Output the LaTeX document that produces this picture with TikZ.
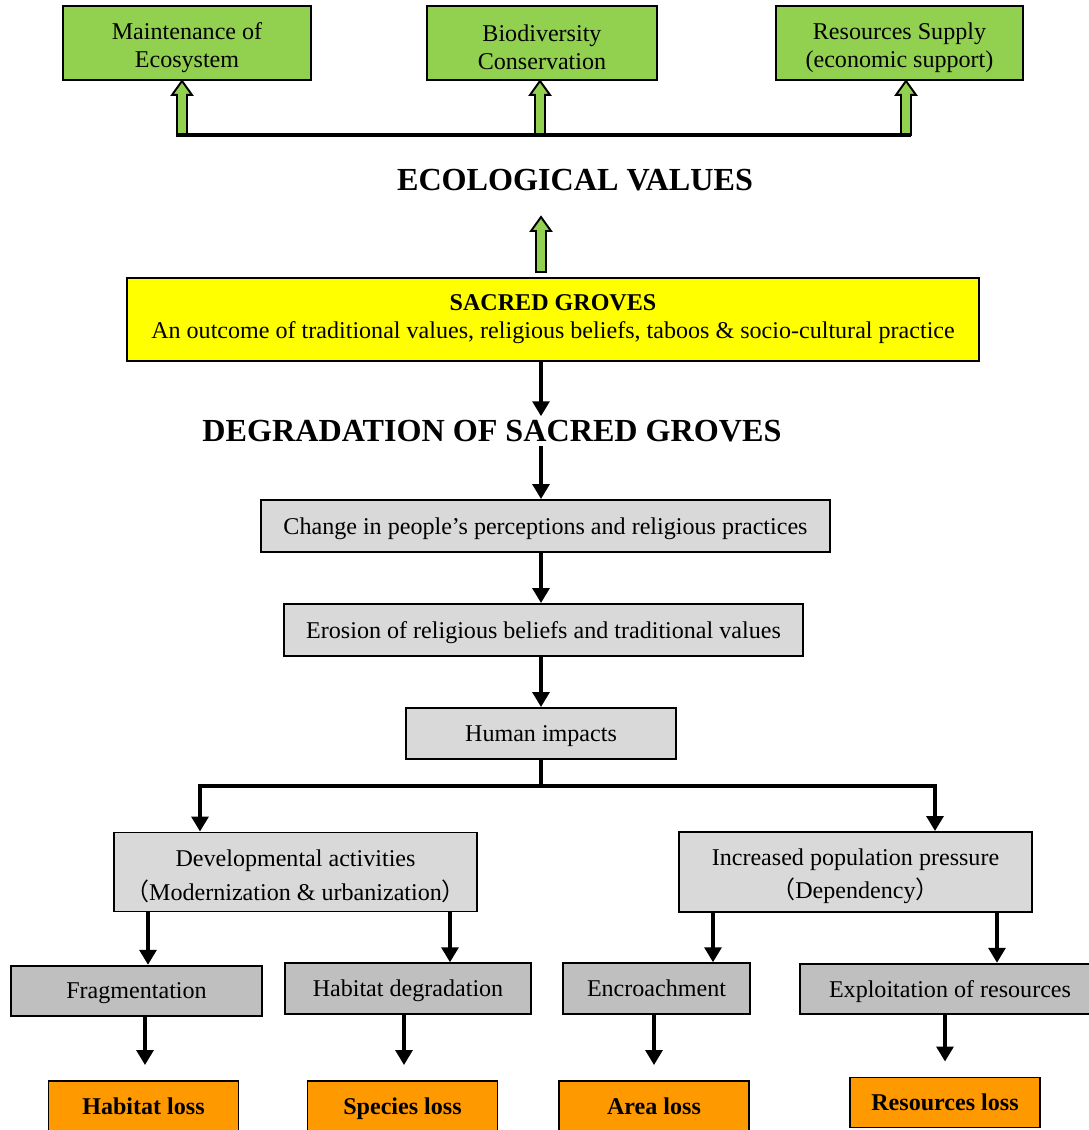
\documentclass[tikz,border=0pt]{standalone}
\usepackage{fontspec}
\setmainfont{Liberation Serif}
\newfontfamily\cjk{Noto Sans CJK SC}
\usetikzlibrary{arrows.meta,calc}

\definecolor{leafgreen}{HTML}{92D050}
\definecolor{groveyellow}{HTML}{FFFF00}
\definecolor{palegray}{HTML}{D9D9D9}
\definecolor{midgray}{HTML}{BFBFBF}
\definecolor{lossorange}{HTML}{FF9900}

\begin{document}
\begin{tikzpicture}[x=0.02cm,y=-0.02cm,
    box/.style={draw,line width=1.1pt,inner sep=0pt,align=center,
      font=\fontsize{13.7}{16}\selectfont},
    valuebox/.style={box,fill=leafgreen,minimum height=1.48cm,
      execute at begin node={\rule{0pt}{30.6pt}}},
    stagebox/.style={box,fill=palegray,minimum height=1.04cm,text depth=0pt},
    causebox/.style={box,fill=palegray,minimum height=1.58cm,
      font=\fontsize{13.7}{19}\selectfont,execute at begin node={\rule{0pt}{33.5pt}}},
    effectbox/.style={box,fill=midgray,minimum height=1.01cm,text depth=0pt},
    lossbox/.style={box,fill=lossorange,minimum width=3.8cm,minimum height=1.0cm,
      text depth=0pt,font=\fontsize{13.7}{16}\selectfont\bfseries},
    heading/.style={inner sep=2pt,font=\fontsize{18.3}{22}\selectfont\bfseries},
    arr/.style={line width=2.1pt,-{Triangle[length=8.5pt,width=9.5pt]}},
    link/.style={line width=2.1pt},
    greenarrow/.style={draw,line width=1.1pt,fill=leafgreen,line join=miter},
  ]
  \useasboundingbox (0,0) rectangle (1089,1130);
  \clip (0,0) rectangle (1089,1130);

  \newcommand\HollowArrow[2]{%
    \draw[greenarrow] ($(#1)+(-5,0)$) -- ($(#2)+(-5,14)$) -- ($(#2)+(-10,14)$) -- (#2)
      -- ($(#2)+(10,14)$) -- ($(#2)+(5,14)$) -- ($(#1)+(5,0)$) -- cycle;}

  % ecological values
  \node[valuebox,minimum width=4.96cm] (eco) at (187,43) {Maintenance of\\Ecosystem};
  \node[valuebox,minimum width=4.6cm] (bio) at (542,43) {Biodiversity\\Conservation};
  \node[valuebox,minimum width=4.94cm] (res) at (899.5,43) {Resources Supply\\(economic support)};

  \coordinate (barL) at (182,135);
  \coordinate (barM) at (540,135);
  \coordinate (barR) at (906,135);
  \coordinate (tipL) at (barL |- eco.south);
  \coordinate (tipM) at (barM |- bio.south);
  \coordinate (tipR) at (barR |- res.south);
  \HollowArrow{barL}{tipL}
  \HollowArrow{barM}{tipM}
  \HollowArrow{barR}{tipR}
  \draw[line width=2.2pt] ([xshift=-0.12cm]barL) -- ([xshift=0.1cm]barR);

  \node[heading] (ecoval) at (575,180) {ECOLOGICAL VALUES};

  % sacred groves
  \node[box,fill=groveyellow,minimum width=17.04cm,minimum height=1.66cm] (sacred) at (553,319.5)
    {\textbf{SACRED GROVES}\\An outcome of traditional values, religious beliefs, taboos \& socio-cultural practice};
  \coordinate (sgbase) at (541,272);
  \coordinate (sgtip) at (541,217);
  \HollowArrow{sgbase}{sgtip}

  % degradation chain
  \node[heading] (degrade) at (492,431) {DEGRADATION OF SACRED GROVES};
  \node[stagebox,minimum width=11.38cm] (change) at (545.5,526)
    {Change in people’s perceptions and religious practices};
  \node[stagebox,minimum width=10.38cm] (erosion) at (543.5,630)
    {Erosion of religious beliefs and traditional values};
  \node[stagebox,minimum width=5.4cm,minimum height=1.02cm] (human) at (541,733.5) {Human impacts};

  \draw[arr] (human |- sacred.south) -- (human |- degrade.north);
  \draw[arr] (human |- degrade.south) -- (human |- change.north);
  \draw[arr] (human |- change.south) -- (human |- erosion.north);
  \draw[arr] (human |- erosion.south) -- (human.north);

  % split
  \node[causebox,minimum width=7.26cm] (dev) at (295.5,872)
    {Developmental activities\\{\cjk （}Modernization \& urbanization{\cjk ）}};
  \node[causebox,minimum width=7.06cm,minimum height=1.6cm] (pop) at (855.5,872)
    {Increased population pressure\\{\cjk （}Dependency{\cjk ）}};

  \coordinate (split) at (541,786);
  \coordinate (dropL) at (200,786);
  \coordinate (dropR) at (935,786);
  \draw[link] (human.south) -- (split);
  \draw[arr] (split) -- (dropL) -- (dropL |- dev.north);
  \draw[arr] (split) -- (dropR) -- (dropR |- pop.north);

  % effects
  \node[effectbox,minimum width=5.02cm] (frag) at (136.5,991) {Fragmentation};
  \node[effectbox,minimum width=4.92cm] (habdeg) at (408,988.5) {Habitat degradation};
  \node[effectbox,minimum width=3.74cm] (encr) at (656.5,988.5) {Encroachment};
  \node[effectbox,minimum width=6.0cm] (expl) at (950,989) {Exploitation of resources};

  \coordinate (tapA) at (148,0);
  \coordinate (tapB) at (450,0);
  \coordinate (tapC) at (713,0);
  \coordinate (tapD) at (997,0);
  \draw[arr] (tapA |- dev.south) -- (tapA |- frag.north);
  \draw[arr] (tapB |- dev.south) -- (tapB |- habdeg.north);
  \draw[arr] (tapC |- pop.south) -- (tapC |- encr.north);
  \draw[arr] (tapD |- pop.south) -- (tapD |- expl.north);

  % losses
  \node[lossbox] (habloss) at (143.5,1106) {Habitat loss};
  \node[lossbox] (specloss) at (402.5,1106) {Species loss};
  \node[lossbox] (arealoss) at (654,1106) {Area loss};
  \node[lossbox] (resloss) at (945,1102.5) {Resources loss};

  \coordinate (dropA) at (145,0);
  \coordinate (dropB) at (404,0);
  \coordinate (dropC) at (654,0);
  \coordinate (dropD) at (945,0);
  \draw[arr,shorten >=0.3cm] (dropA |- frag.south) -- (dropA |- habloss.north);
  \draw[arr,shorten >=0.3cm] (dropB |- habdeg.south) -- (dropB |- specloss.north);
  \draw[arr,shorten >=0.3cm] (dropC |- encr.south) -- (dropC |- arealoss.north);
  \draw[arr,shorten >=0.3cm] (dropD |- expl.south) -- (dropD |- resloss.north);
\end{tikzpicture}
\end{document}
